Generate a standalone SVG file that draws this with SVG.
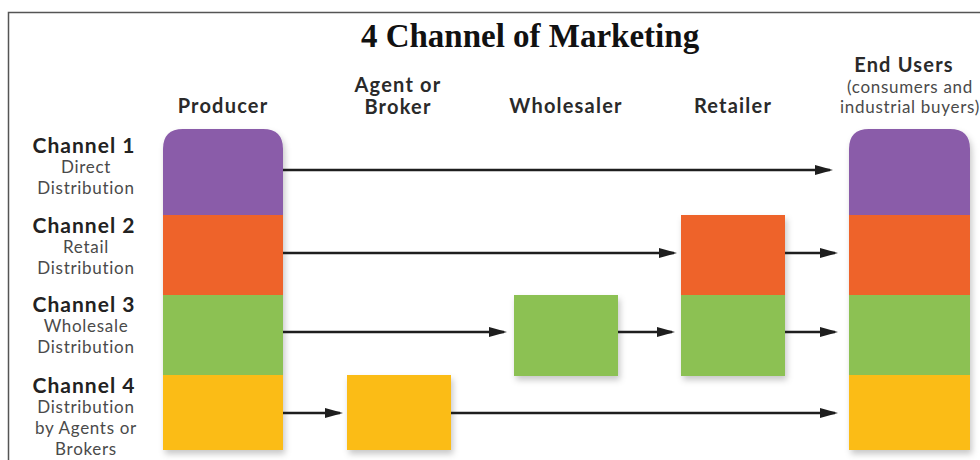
<svg xmlns="http://www.w3.org/2000/svg" width="980" height="460" viewBox="0 0 980 460">
  <defs>
    <filter id="shadow" x="-20%" y="-20%" width="140%" height="140%">
      <feDropShadow dx="2" dy="4" stdDeviation="3" flood-color="#000" flood-opacity="0.22"/>
    </filter>
    <marker id="arrow" markerUnits="userSpaceOnUse" markerWidth="18" markerHeight="10" refX="15" refY="5" orient="auto">
      <path d="M0,0 L18,5 L0,10 z" fill="#1e1e1e"/>
    </marker>
    <style>
      .title { font-family: "Liberation Serif", "Times New Roman", serif; font-weight: bold; font-size: 33px; fill: #111; }
      .head { font-family: Lato, "Open Sans", "DejaVu Sans", sans-serif; font-weight: bold; font-size: 20px; letter-spacing: 1.2px; fill: #2a2a2a; text-anchor: middle; }
      .sub { font-family: Lato, "Open Sans", "DejaVu Sans", sans-serif; font-size: 17px; letter-spacing: 0.7px; fill: #4a4a4a; text-anchor: middle; }
      .ch { font-family: Lato, "Open Sans", "DejaVu Sans", sans-serif; font-weight: bold; font-size: 21px; letter-spacing: 1px; fill: #222; text-anchor: middle; }
      .conn { stroke: #1e1e1e; stroke-width: 2.5; fill: none; marker-end: url(#arrow); }
      .purple { fill: #8a5ba9; }
      .orange { fill: #ee6429; }
      .green { fill: #8cc152; }
      .yellow { fill: #fbbc13; }
    </style>
  </defs>

  <rect width="980" height="460" fill="#ffffff"/>
  <!-- outer frame -->
  <path d="M8.5,460 V12.5 H980" fill="none" stroke="#555" stroke-width="1.5"/>

  <text class="title" x="530" y="47" text-anchor="middle">4 Channel of Marketing</text>

  <!-- column headings -->
  <text class="head" x="223" y="113">Producer</text>
  <text class="head" x="398" y="92">Agent or</text>
  <text class="head" x="398" y="114">Broker</text>
  <text class="head" x="566" y="113">Wholesaler</text>
  <text class="head" x="733" y="113">Retailer</text>
  <text class="head" x="904" y="72">End Users</text>
  <text class="sub" x="910" y="93">(consumers and</text>
  <text class="sub" x="910" y="113">industrial buyers)</text>

  <!-- channel labels -->
  <g id="channel-labels">
    <text class="ch" x="84" y="153">Channel 1</text>
    <text class="sub" x="86" y="173">Direct</text>
    <text class="sub" x="86" y="194">Distribution</text>
    <text class="ch" x="84" y="233">Channel 2</text>
    <text class="sub" x="86" y="253">Retail</text>
    <text class="sub" x="86" y="274">Distribution</text>
    <text class="ch" x="84" y="312">Channel 3</text>
    <text class="sub" x="86" y="332">Wholesale</text>
    <text class="sub" x="86" y="353">Distribution</text>
    <text class="ch" x="84" y="393">Channel 4</text>
    <text class="sub" x="86" y="413">Distribution</text>
    <text class="sub" x="86" y="434">by Agents or</text>
    <text class="sub" x="86" y="455">Brokers</text>
  </g>

  <!-- producer column -->
  <g id="producer" filter="url(#shadow)">
    <path class="purple" d="M163,215 V149 Q163,129 183,129 H263 Q283,129 283,149 V215 z"/>
    <rect class="orange" x="163" y="215" width="120" height="80"/>
    <rect class="green" x="163" y="295" width="120" height="80"/>
    <rect class="yellow" x="163" y="375" width="120" height="75"/>
  </g>

  <!-- agent or broker -->
  <g id="agent" filter="url(#shadow)">
    <rect class="yellow" x="347" y="375" width="104" height="75"/>
  </g>

  <!-- wholesaler -->
  <g id="wholesaler" filter="url(#shadow)">
    <rect class="green" x="514" y="295" width="104" height="81"/>
  </g>

  <!-- retailer -->
  <g id="retailer" filter="url(#shadow)">
    <rect class="orange" x="681" y="215" width="104" height="80"/>
    <rect class="green" x="681" y="295" width="104" height="81"/>
  </g>

  <!-- end users column -->
  <g id="end-users" filter="url(#shadow)">
    <path class="purple" d="M849,215 V149 Q849,129 869,129 H950 Q970,129 970,149 V215 z"/>
    <rect class="orange" x="849" y="215" width="121" height="80"/>
    <rect class="green" x="849" y="295" width="121" height="80"/>
    <rect class="yellow" x="849" y="375" width="121" height="75"/>
  </g>

  <!-- connectors -->
  <g id="connectors">
    <line class="conn" x1="283" y1="170" x2="830" y2="170"/>
    <line class="conn" x1="283" y1="253" x2="674" y2="253"/>
    <line class="conn" x1="785" y1="253" x2="835" y2="253"/>
    <line class="conn" x1="283" y1="332" x2="504" y2="332"/>
    <line class="conn" x1="618" y1="332" x2="672" y2="332"/>
    <line class="conn" x1="785" y1="332" x2="835" y2="332"/>
    <line class="conn" x1="283" y1="413" x2="340" y2="413"/>
    <line class="conn" x1="451" y1="413" x2="835" y2="413"/>
  </g>
</svg>
